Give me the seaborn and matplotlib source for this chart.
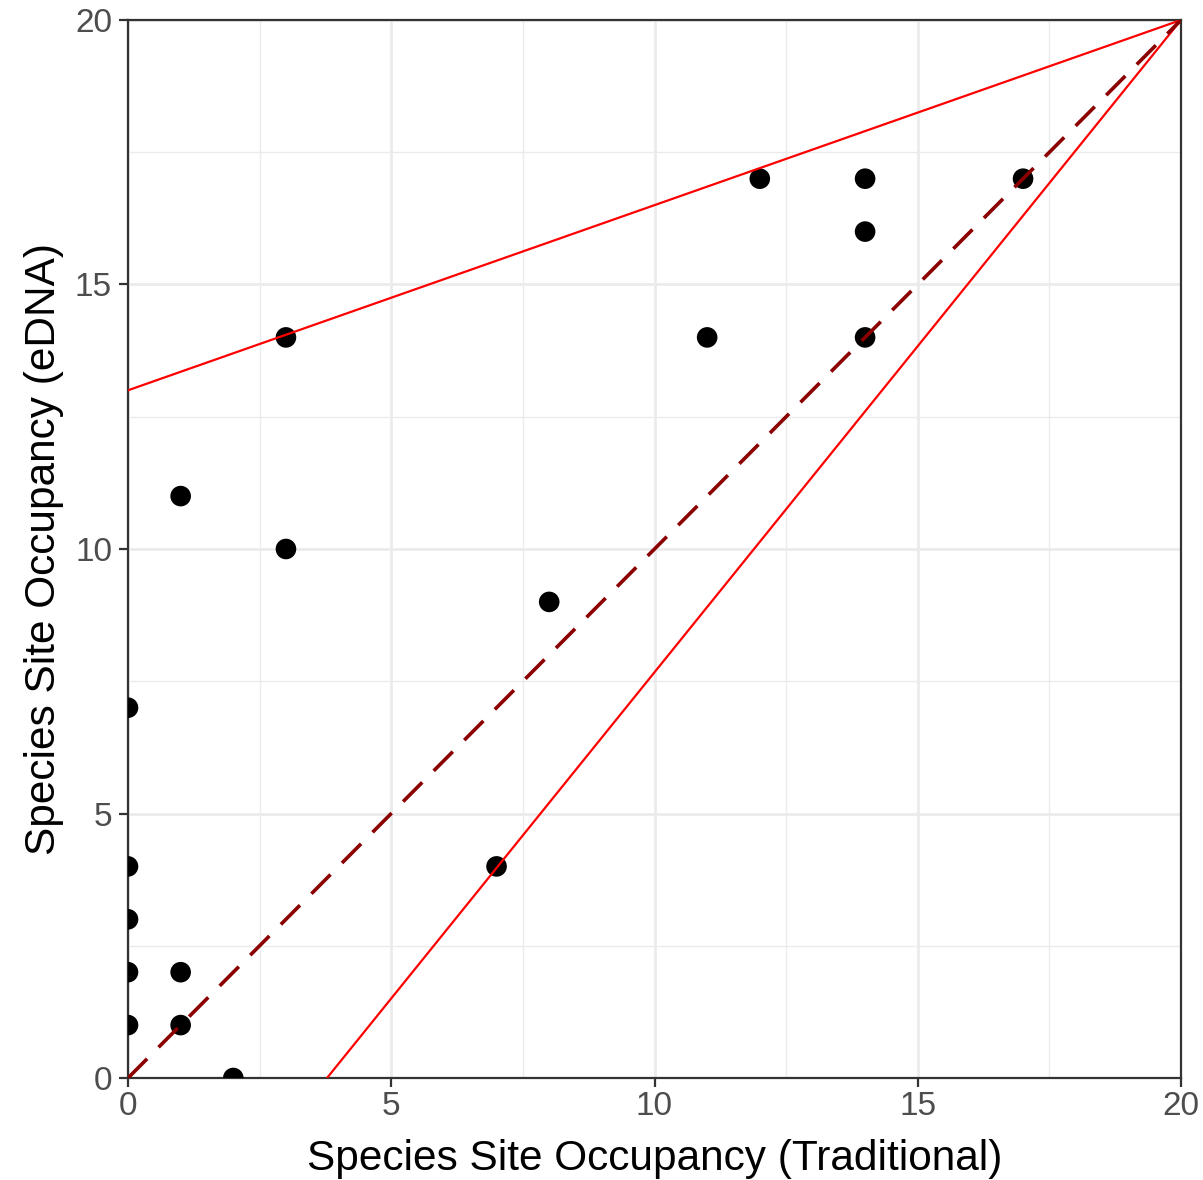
import matplotlib
matplotlib.use("Agg")
import matplotlib.pyplot as plt
import seaborn as sns
import numpy as np
import pandas as pd

traditional = [0, 0, 0, 0, 0, 1, 1, 1, 2, 3, 3, 7, 8, 11, 12, 14, 14, 14, 17]
edna = [7, 4, 3, 2, 1, 11, 2, 1, 0, 14, 10, 4, 9, 14, 17, 17, 16, 14, 17]

upper_line_x = [0, 20]
upper_line_y = [13, 20]
lower_line_x = [3.78, 20]
lower_line_y = [0, 20]
identity_x = [0, 20]
identity_y = [0, 20]

df = pd.DataFrame({"trad": traditional, "edna": edna})

sns.set_theme(style="white")
plt.rcParams['font.family'] = ['Liberation Sans', 'DejaVu Sans']

fig = plt.figure(figsize=(12.03, 11.80), dpi=100)
ax = fig.add_axes([128/1203, 1 - 1078/1180, (1181-128)/1203, (1078-20)/1180])

sns.scatterplot(data=df, x="trad", y="edna", ax=ax, color="black", s=220,
                edgecolor="none", zorder=3)
sns.lineplot(x=upper_line_x, y=upper_line_y, ax=ax, color="#FF0000", lw=1.6, zorder=4)
sns.lineplot(x=lower_line_x, y=lower_line_y, ax=ax, color="#FF0000", lw=1.6, zorder=4)
ax.plot(identity_x, identity_y, color="#8B0000", lw=2.6, dashes=(7.5, 4.5), zorder=4)

ax.set_xlim(0, 20)
ax.set_ylim(0, 20)
ticks = [0, 5, 10, 15, 20]
ax.set_xticks(ticks)
ax.set_yticks(ticks)
ax.set_xticks([2.5, 7.5, 12.5, 17.5], minor=True)
ax.set_yticks([2.5, 7.5, 12.5, 17.5], minor=True)
ax.grid(True, which="major", color="#EBEBEB", lw=2.0, zorder=0)
ax.grid(True, which="minor", color="#EBEBEB", lw=1.0, zorder=0)
ax.set_axisbelow(True)

for sp in ax.spines.values():
    sp.set_color("#333333")
    sp.set_linewidth(1.6)
    sp.set_visible(True)

ax.tick_params(axis="both", which="major", length=6.5, width=1.6, color="#333333",
               labelsize=24, labelcolor="#4D4D4D", bottom=True, left=True)
ax.tick_params(axis="y", which="major", pad=5)
ax.tick_params(axis="x", which="major", pad=3)
ax.tick_params(axis="both", which="minor", length=0)

ax.set_xlabel("Species Site Occupancy (Traditional)", fontsize=30.5, color="black", labelpad=12)
ax.set_ylabel("Species Site Occupancy (eDNA)", fontsize=30.5, color="black", labelpad=8)

fig.savefig("out.png", dpi=100)
